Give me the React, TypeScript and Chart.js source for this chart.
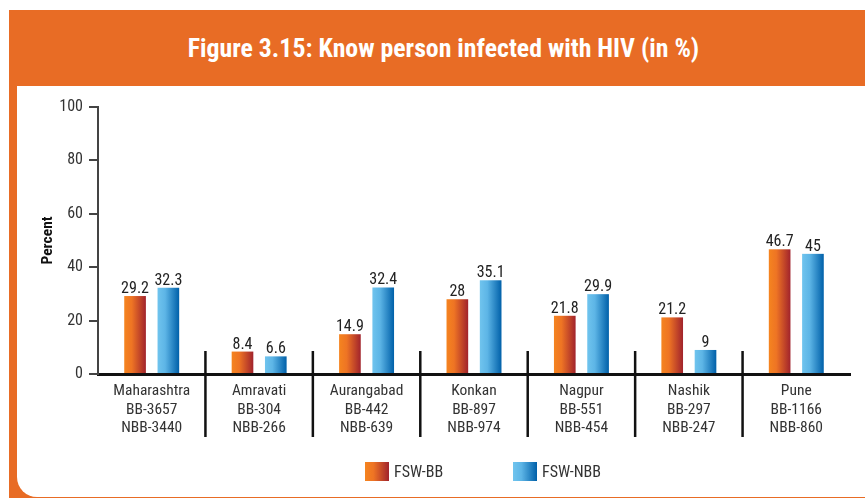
import React, { useEffect, useRef } from "react";
import { Chart, registerables } from "chart.js";

Chart.register(...registerables);

const regions = ["Maharashtra", "Amravati", "Aurangabad", "Konkan", "Nagpur", "Nashik", "Pune"];
const bbSamples = ["BB-3657", "BB-304", "BB-442", "BB-897", "BB-551", "BB-297", "BB-1166"];
const nbbSamples = ["NBB-3440", "NBB-266", "NBB-639", "NBB-974", "NBB-454", "NBB-247", "NBB-860"];
const fswBB = [29.2, 8.4, 14.9, 28, 21.8, 21.2, 46.7];
const fswNBB = [32.3, 6.6, 32.4, 35.1, 29.9, 9, 45];
const seriesNames = ["FSW-BB", "FSW-NBB"];
const yMin = 0;
const yMax = 100;
const yStep = 20;
const titleText = "Figure 3.15: Know person infected with HIV (in %)";
const yTitle = "Percent";

const FONT = 'Roboto, "DejaVu Sans Condensed", sans-serif';
const ORANGE = "#E86C25";

const gradientStops: [number, string][][] = [
  [
    [0, "#F5841F"],
    [0.35, "#EE7424"],
    [1, "#A1232C"],
  ],
  [
    [0, "#70C4EE"],
    [0.35, "#5DB5E6"],
    [1, "#0060A9"],
  ],
];
const cssGradients = [
  "linear-gradient(to right, #F5841F 0%, #EE7424 35%, #A1232C 100%)",
  "linear-gradient(to right, #70C4EE 0%, #5DB5E6 35%, #0060A9 100%)",
];

const decorPlugin = {
  id: "decor",
  afterDatasetsDraw(chart: any) {
    const ctx = chart.ctx as CanvasRenderingContext2D;
    const area = chart.chartArea;
    const xs = chart.scales.x;
    ctx.save();
    chart.data.datasets.forEach((ds: any, di: number) => {
      const meta = chart.getDatasetMeta(di);
      meta.data.forEach((el: any, i: number) => {
        const { x, y, base, width } = el.getProps(["x", "y", "base", "width"], true);
        const left = x - width / 2;
        const g = ctx.createLinearGradient(left, 0, left + width, 0);
        gradientStops[di].forEach(([o, c]) => g.addColorStop(o, c));
        ctx.fillStyle = g;
        ctx.fillRect(left, y, width, base - y);
        ctx.fillStyle = "#222";
        ctx.font = `condensed 16px ${FONT}`;
        ctx.textAlign = "center";
        ctx.textBaseline = "alphabetic";
        ctx.fillText(String(ds.data[i]), x, y - 3);
      });
    });
    ctx.strokeStyle = "#111";
    ctx.lineWidth = 2.5;
    for (let i = 1; i < regions.length; i++) {
      const sx = (xs.getPixelForValue(i - 1) + xs.getPixelForValue(i)) / 2;
      ctx.beginPath();
      ctx.moveTo(sx, area.bottom - 23);
      ctx.lineTo(sx, area.bottom + 63);
      ctx.stroke();
    }
    ctx.restore();
  },
};

function ChartCanvas() {
  const ref = useRef<HTMLCanvasElement | null>(null);
  useEffect(() => {
    if (!ref.current) return;
    const chart = new Chart(ref.current, {
      type: "bar",
      data: {
        labels: regions.map((r, i) => [r, bbSamples[i], nbbSamples[i]]),
        datasets: [
          { label: seriesNames[0], data: fswBB, backgroundColor: "rgba(0,0,0,0)", borderWidth: 0 },
          { label: seriesNames[1], data: fswNBB, backgroundColor: "rgba(0,0,0,0)", borderWidth: 0 },
        ],
      },
      options: {
        responsive: false,
        animation: false,
        devicePixelRatio: 1,
        layout: { padding: { left: 39, right: 15, top: 107, bottom: 0 } },
        datasets: { bar: { categoryPercentage: 0.62, barPercentage: 0.65 } },
        plugins: { legend: { display: false }, tooltip: { enabled: false }, title: { display: false } },
        scales: {
          x: {
            grid: { display: false, drawTicks: false, tickLength: 0 },
            border: { display: true, color: "#111", width: 3 },
            ticks: {
              color: "#333",
              padding: 8,
              maxRotation: 0,
              autoSkip: false,
              font: { family: FONT, size: 15.5, weight: "condensed", lineHeight: 1.19 },
            },
            afterFit(scale: any) {
              scale.height = 498 - 374;
            },
          },
          y: {
            min: yMin,
            max: yMax,
            ticks: { stepSize: yStep, color: "#333", padding: 6, font: { family: FONT, size: 16, weight: "condensed" } },
            grid: { drawOnChartArea: false, drawTicks: true, tickLength: 9, color: "#444", lineWidth: 2 },
            border: { display: true, color: "#444", width: 2 },
            title: {
              display: true,
              text: yTitle,
              color: "#111",
              padding: 0,
              font: { family: FONT, size: 15.5, weight: "bold condensed" },
            },
            afterFit(scale: any) {
              scale.width = 59;
            },
          },
        },
      },
      plugins: [decorPlugin],
    } as any);
    return () => chart.destroy();
  }, []);
  return (
    <canvas
      ref={ref}
      width={865}
      height={498}
      style={{ position: "absolute", left: 0, top: 0, width: 865, height: 498 }}
    />
  );
}

export default function App() {
  return (
    <div
      style={{
        position: "absolute",
        left: 0,
        top: 0,
        width: 865,
        height: 498,
        overflow: "hidden",
        background: "#fff",
        fontFamily: FONT,
        fontStretch: "condensed",
      }}
    >
      <div style={{ position: "absolute", left: 9, top: 10, width: 870, height: 500, background: ORANGE }} />
      <div
        style={{
          position: "absolute",
          left: 17,
          top: 86,
          width: 870,
          height: 411,
          background: "#fff",
          borderBottomLeftRadius: 20,
        }}
      />
      <div
        style={{
          position: "absolute",
          left: 0,
          top: 10,
          width: 887,
          height: 76,
          lineHeight: "76px",
          textAlign: "center",
          color: "#fff",
          fontWeight: "bold",
          fontSize: 25.8,
          whiteSpace: "nowrap",
        }}
      >
        {titleText}
      </div>
      <ChartCanvas />
      {seriesNames.map((name, i) => (
        <div key={name}>
          <div
            style={{
              position: "absolute",
              left: i === 0 ? 365 : 513,
              top: 462,
              width: 24,
              height: 19,
              background: cssGradients[i],
            }}
          />
          <div
            style={{
              position: "absolute",
              left: i === 0 ? 394 : 542,
              top: 462,
              height: 19,
              lineHeight: "19px",
              fontSize: 16,
              color: "#333",
            }}
          >
            {name}
          </div>
        </div>
      ))}
    </div>
  );
}
